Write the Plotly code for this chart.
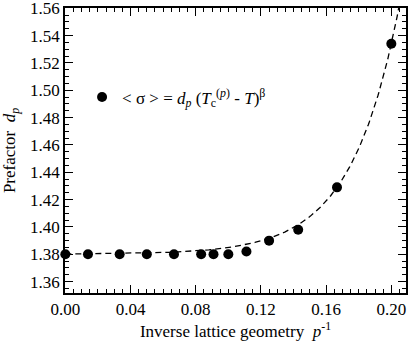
import numpy as np
import plotly.graph_objects as go

# inverse lattice geometry p^-1 (p = inf, 72, 30, 20, 15, 12, 11, 10, 9, 8, 7, 6, 5)
inv_p = [0.0, 1/72, 1/30, 1/20, 1/15, 1/12, 1/11, 1/10, 1/9, 1/8, 1/7, 1/6, 1/5]
prefactor = [1.380, 1.380, 1.380, 1.380, 1.380, 1.380, 1.380, 1.380, 1.382, 1.390, 1.398, 1.429, 1.534]

# fitted curve parameters: d = d0 + A*exp((x - x_ref)/b)
fit_d0 = 1.380
fit_amp = 0.154
fit_xref = 0.20
fit_b = 0.0291

x_ticks = [0.00, 0.04, 0.08, 0.12, 0.16, 0.20]
x_ticklabels = ["0.00", "0.04", "0.08", "0.12", "0.16", "0.20"]
y_ticks = [1.36, 1.38, 1.40, 1.42, 1.44, 1.46, 1.48, 1.50, 1.52, 1.54, 1.56]
y_ticklabels = ["%.2f" % v for v in y_ticks]

x_range = [-0.0002, 0.209]
y_range = [1.3517, 1.5602]

fx = np.linspace(0.0, x_range[1], 400)
fy = fit_d0 + fit_amp * np.exp((fx - fit_xref) / fit_b)

FONT = "Liberation Serif"

fig = go.Figure()
fig.add_trace(go.Scatter(
    x=fx, y=fy, mode="lines",
    line=dict(color="black", width=1.3, dash="6px,4px"),
    showlegend=False, hoverinfo="skip"))
fig.add_trace(go.Scatter(
    x=inv_p, y=prefactor, mode="markers",
    marker=dict(color="black", size=10, symbol="circle"),
    name="&lt; σ &gt; = <i>d</i><sub><i>p</i></sub> (<i>T</i><sub>c</sub><sup>(<i>p</i>)</sup> - <i>T</i>)<sup>β</sup>",
    showlegend=True, cliponaxis=False))

axis_common = dict(
    showline=True, linecolor="black", linewidth=1.5, mirror="allticks",
    ticks="inside", ticklen=8, tickwidth=1.2, tickcolor="black",
    showgrid=False, zeroline=False, automargin=False,
    ticklabeloverflow="allow",
    tickfont=dict(family=FONT, size=17, color="black"),
)

fig.update_xaxes(
    range=x_range, tickvals=x_ticks, ticktext=x_ticklabels,
    minor=dict(dtick=0.005, tick0=0, ticks="inside", ticklen=4, tickwidth=1, tickcolor="black"),
    title=dict(text="Inverse lattice geometry  <i>p</i><sup>-1</sup>",
               font=dict(family=FONT, size=17, color="black"), standoff=4),
    **axis_common)
fig.update_yaxes(
    range=y_range, tickvals=y_ticks, ticktext=y_ticklabels,
    minor=dict(dtick=0.005, tick0=1.36, ticks="inside", ticklen=4, tickwidth=1, tickcolor="black"),
    title=dict(text="Prefactor  <i>d</i><sub><i>p</i></sub>",
               font=dict(family=FONT, size=17, color="black"), standoff=10),
    **axis_common)

fig.update_layout(
    width=409, height=341,
    margin=dict(l=65, r=3, t=8, b=48),
    paper_bgcolor="white", plot_bgcolor="white",
    font=dict(family=FONT, size=17, color="black"),
    legend=dict(x=0.05, y=0.686, xanchor="left", yanchor="middle",
                bgcolor="rgba(0,0,0,0)", borderwidth=0,
                font=dict(family=FONT, size=17, color="black")),
)

fig.write_html("out.html", config={"displayModeBar": False},
               post_script="document.body.style.margin='0px';document.body.style.padding='0px';")
